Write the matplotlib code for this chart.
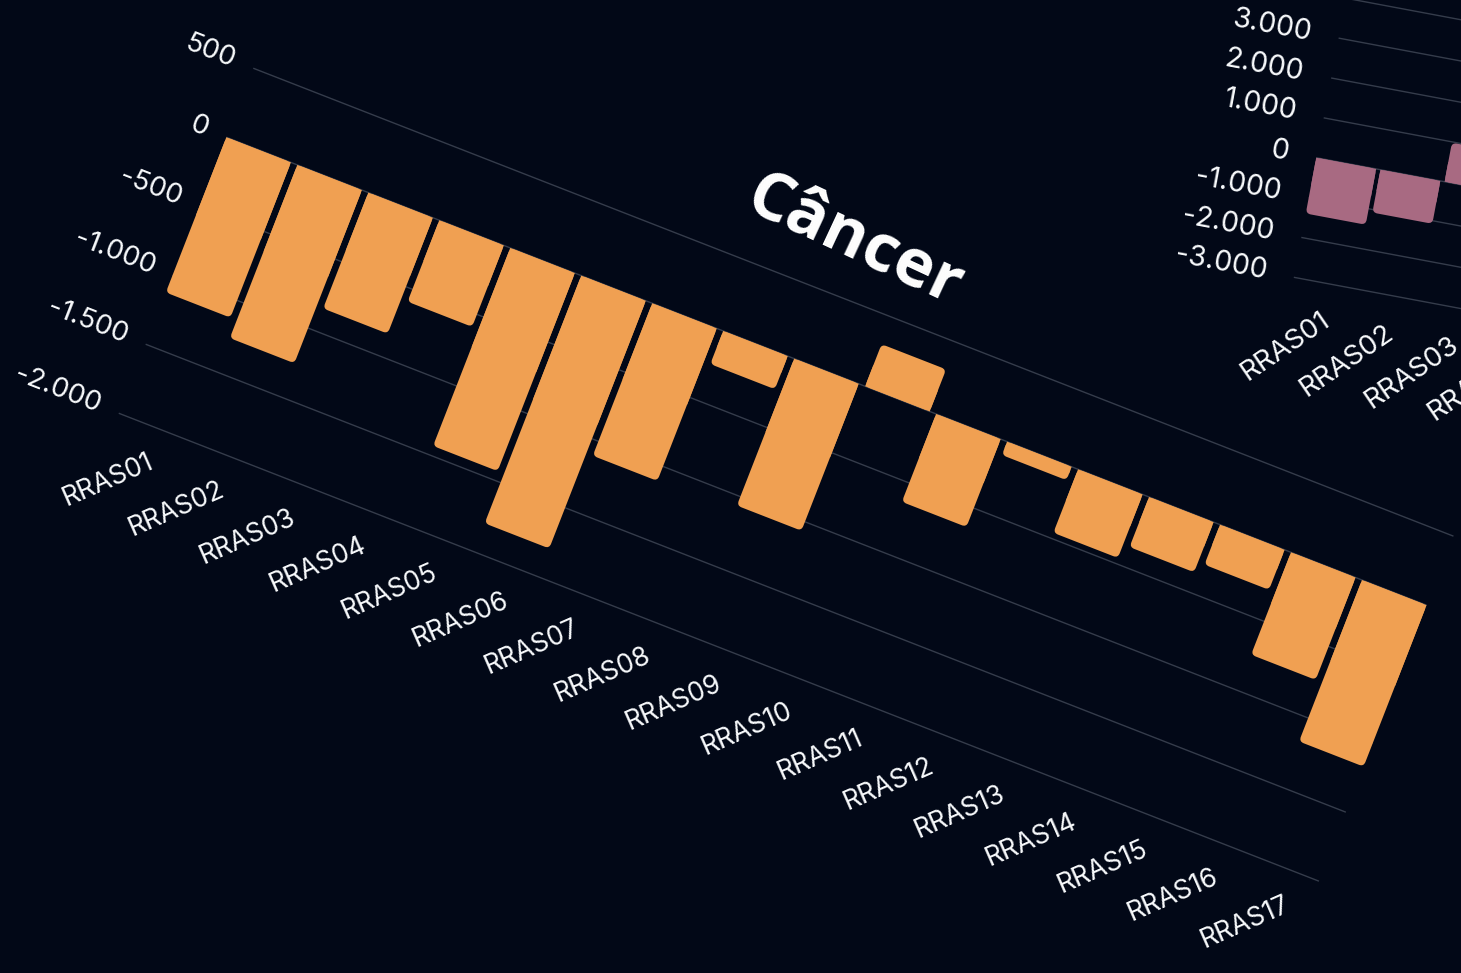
import matplotlib.pyplot as plt
from matplotlib.patches import FancyBboxPatch
from matplotlib.transforms import Affine2D, ScaledTranslation

# ---- data ----
regions = ["RRAS01", "RRAS02", "RRAS03", "RRAS04", "RRAS05", "RRAS06",
           "RRAS07", "RRAS08", "RRAS09", "RRAS10", "RRAS11", "RRAS12",
           "RRAS13", "RRAS14", "RRAS15", "RRAS16", "RRAS17"]
cancer = [-1125, -1255, -840, -590, -1435, -1795, -1105, -240, -1065, 305,
          -637, -97, -460, -363, -290, -742, -1170]
cancer_ticks = [500, 0, -500, -1000, -1500, -2000]

# second chart, cut by the right edge of the picture
regions2 = ["RRAS01", "RRAS02", "RRAS03", "RRAS04"]
second = [-1400, -1075, 980]
second_ticks = [4000, 3000, 2000, 1000, 0, -1000, -2000, -3000]

BG = "#020817"
ORANGE = "#F0A052"
PINK = "#A86A82"
GRID = "#353c4b"
TEXT = "#F8FAFC"
TICK_FONT = ["Inter", "DejaVu Sans"]

W, H = 1461, 973
fig = plt.figure(figsize=(W / 100, H / 100), dpi=100)
fig.patch.set_facecolor(BG)


def fmt(v):
    return f"{v:,.0f}".replace(",", ".")


def rotated_axes(cx, cy, w, h, angle):
    # axes box in pixels, centred on (cx, cy), turned clockwise around its centre
    ax = fig.add_axes([(cx - w / 2) / W, (cy - h / 2) / H, w / W, h / H])
    ax.set_axis_off()
    rot = Affine2D().rotate_deg_around(cx, cy, -angle)
    return ax, rot, w, h


def px(dx, dy):
    return ScaledTranslation(dx / 100, dy / 100, fig.dpi_scale_trans)


def draw_chart(axinfo, angle, cats, vals, ticks, color, width,
               lab_dx, lab_dy, tick_pad, radius=5, fs_tick=20, fs_lab=19):
    ax, rot, w_px, h_px = axinfo
    n = len(cats)
    x0, x1 = -width / 2, n - 1 + width / 2
    y0, y1 = min(ticks), max(ticks)
    ax.set_xlim(x0, x1)
    ax.set_ylim(y0, y1)
    T = ax.transData + rot

    ax.hlines(ticks, x0, x1, colors=GRID, lw=1, transform=T,
              clip_on=False, zorder=1)

    px_x = w_px / (x1 - x0)
    px_y = h_px / (y1 - y0)
    for i, v in enumerate(vals):
        p = FancyBboxPatch((i - width / 2, min(v, 0)), width, abs(v),
                           boxstyle=f"round,pad=0,rounding_size={radius / px_x}",
                           mutation_aspect=px_x / px_y, fc=color, ec="none",
                           transform=T, clip_on=False, zorder=2)
        ax.add_patch(p)
    # square corners on the zero line
    ax.bar(range(len(vals)), [v / 2 for v in vals], width, color=color,
           transform=T, clip_on=False, zorder=2, lw=0)

    for t in ticks:
        ax.text(x0, t, fmt(t), transform=ax.transData + px(-tick_pad, 0) + rot,
                rotation=-angle, rotation_mode="anchor", ha="right", va="center",
                color=TEXT, fontsize=fs_tick, family=TICK_FONT)
    for i, c in enumerate(cats):
        ax.text(i, y0, c, transform=ax.transData + px(lab_dx, lab_dy) + rot,
                rotation=45 - angle, rotation_mode="anchor", ha="right",
                va="center", color=TEXT, fontsize=fs_lab, family=TICK_FONT)
    return ax, rot


ANG1 = 21.3
ax1, rot1 = draw_chart(rotated_axes(786.1, 498.3, 1288.2, 370.3, ANG1), ANG1,
                       regions, cancer, cancer_ticks, ORANGE, 0.91,
                       14, -32, 20)
ax1.text(0.484, 1.173, "Câncer", transform=ax1.transAxes + rot1 + px(-3, -6),
         rotation=-25, rotation_mode="anchor", ha="center", va="center",
         color="white", fontsize=48, fontweight="bold",
         family=["Open Sans", "DejaVu Sans"])

ANG2 = 10.6
draw_chart(rotated_axes(1446.2, 811.6, 256.9, 283.9, ANG2), ANG2,
           regions2, second, second_ticks, PINK, 0.934, 10, -34, 28,
           fs_tick=20.5, fs_lab=20)

fig.savefig("out.png", dpi=100, facecolor=BG)
